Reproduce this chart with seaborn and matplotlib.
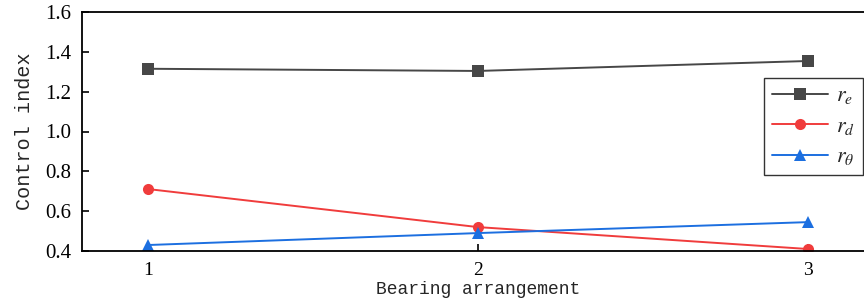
import numpy as np
import pandas as pd
import matplotlib
matplotlib.use("Agg")
import matplotlib.pyplot as plt
import seaborn as sns

# Data
arrangement = [1, 2, 3]
r_e = [1.315, 1.304, 1.354]
r_d = [0.711, 0.520, 0.410]
r_theta = [0.430, 0.490, 0.545]

series_names = ["$r_e$", "$r_d$", r"$r_\theta$"]
series_values = [r_e, r_d, r_theta]
colors = ["#474747", "#f03c3c", "#1c6fe0"]
markers = ["s", "o", "^"]

sns.set_theme(style="ticks")
plt.rcParams["font.family"] = ["Liberation Serif", "DejaVu Serif"]
plt.rcParams["mathtext.fontset"] = "stix"

fig = plt.figure(figsize=(8.64, 3.08), dpi=100)
# axes extends slightly past the right edge, like the cropped original
ax = fig.add_axes([82 / 864, 1 - 251 / 308, (874 - 82) / 864, (251 - 12) / 308])

for name, vals, c, m in zip(series_names, series_values, colors, markers):
    df = pd.DataFrame({"x": arrangement, "y": vals})
    sns.lineplot(data=df, x="x", y="y", ax=ax, color=c, marker=m,
                 markersize=8, markeredgewidth=0, linewidth=1.4, label=name)

ax.set_xlim(0.8, 3.2)
ax.set_ylim(0.4, 1.6)
ax.set_xticks(arrangement)
ax.set_yticks(np.arange(0.4, 1.61, 0.2))
ax.yaxis.set_major_formatter(matplotlib.ticker.FormatStrFormatter("%.1f"))
ax.tick_params(direction="in", length=5, width=1.2, labelsize=14, colors="black")
ax.tick_params(axis="y", labelsize=15, pad=8)
ax.tick_params(axis="x", pad=8)

for s in ax.spines.values():
    s.set_color("black")
    s.set_linewidth(1.3)

ax.set_xlabel("Bearing arrangement", fontsize=13, family="Liberation Mono", labelpad=1)
ax.set_ylabel("Control index", fontsize=14.5, family="Liberation Mono", labelpad=8)

leg = ax.legend(loc="upper right", bbox_to_anchor=(863 / 864, 1 - 78 / 308),
                bbox_transform=fig.transFigure,
                frameon=True, fancybox=False, edgecolor="black", fontsize=16,
                handlelength=2.5, borderpad=0.35, labelspacing=0.45, handletextpad=0.4,
                borderaxespad=0)
leg.get_frame().set_linewidth(1.0)

fig.savefig("out.png", dpi=100)
